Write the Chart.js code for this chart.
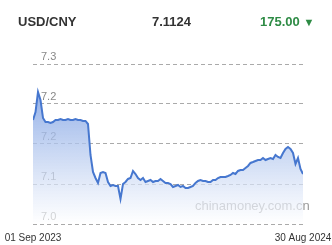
<!DOCTYPE html>
<html>
<head>
<meta charset="utf-8">
<script src="https://cdn.jsdelivr.net/npm/chart.js@4"></script>
<style>
  body { margin: 0; background: #fff; font-family: "Liberation Sans", Arial, sans-serif; }
  #wrap { position: relative; width: 332px; height: 245px; }
  #myChart { position: absolute; left: 0; top: 0; }
  .hd { position: absolute; top: 14px; font-size: 13px; font-weight: bold; color: #333; }
</style>
</head>
<body>
<div id="wrap">
  <canvas id="myChart" width="332" height="245"></canvas>
  <span class="hd" style="left:18px">USD/CNY</span>
  <span class="hd" style="left:152px">7.1124</span>
  <span class="hd" style="left:260px;color:#2e8b45">175.00 <span style="font-size:11px">&#9660;</span></span>
</div>
<script>
// USD/CNY, 01 Sep 2023 - 30 Aug 2024
const dateLabels = ['01 Sep 2023', '30 Aug 2024'];
const rates = [
  7.18, 7.19, 7.215, 7.205, 7.1825, 7.1775, 7.1775, 7.1763, 7.1775, 7.18,
  7.18, 7.1813, 7.18, 7.18, 7.1813, 7.18, 7.18, 7.1813, 7.18, 7.18,
  7.1788, 7.1788, 7.175, 7.1363, 7.115, 7.1075, 7.1013, 7.1138, 7.115, 7.1138,
  7.1025, 7.0975, 7.0988, 7.0975, 7.0975, 7.0813, 7.10, 7.1025, 7.1063, 7.1075,
  7.1163, 7.1125, 7.1075, 7.105, 7.1075, 7.1025, 7.1038, 7.105, 7.1025, 7.1038,
  7.1038, 7.1063, 7.1038, 7.1013, 7.1013, 7.10, 7.0963, 7.0975, 7.0988, 7.0963,
  7.0975, 7.095, 7.095, 7.0963, 7.0975, 7.1013, 7.1038, 7.105, 7.1038, 7.1038,
  7.1025, 7.1025, 7.105, 7.105, 7.1075, 7.1088, 7.1088, 7.1088, 7.11, 7.1113,
  7.1138, 7.1125, 7.1163, 7.1175, 7.1175, 7.12, 7.1225, 7.1263, 7.1275, 7.1288,
  7.13, 7.13, 7.1325, 7.13, 7.1313, 7.1325, 7.1313, 7.1363, 7.1338, 7.1325,
  7.1388, 7.1438, 7.1463, 7.1438, 7.1388, 7.125, 7.1325, 7.1188, 7.1124
];
// gridlines and the labels the site prints for them (one decimal)
const yTicks = [7.05, 7.10, 7.15, 7.20, 7.25];
const yTickLabels = ['7.0', '7.1', '7.2', '7.2', '7.3'];

const points = rates.map((v, i) => ({ x: i, y: v }));
const last = rates.length - 1;

// watermark, drawn under the fill
const watermark = {
  id: 'watermark',
  beforeDatasetsDraw(chart) {
    const c = chart.ctx;
    c.save();
    c.font = '13px "Liberation Sans", Arial, sans-serif';
    c.fillStyle = '#9a9a9a';
    c.textBaseline = 'middle';
    c.fillText('chinamoney.com.cn', 195, 206);
    c.restore();
  }
};

const ctx = document.getElementById('myChart').getContext('2d');
const myChart = new Chart(ctx, {
  type: 'line',
  data: {
    datasets: [{
      data: points,
      borderColor: '#4677cf',
      borderWidth: 2,
      pointRadius: 0,
      tension: 0,
      fill: 'start',
      backgroundColor: function(context) {
        const area = context.chart.chartArea;
        if (!area) return 'rgba(120,160,225,0.5)';
        const g = context.chart.ctx.createLinearGradient(0, area.top, 0, area.bottom);
        g.addColorStop(0, 'rgba(95,138,220,0.85)');
        g.addColorStop(1, 'rgba(255,255,255,0.65)');
        return g;
      }
    }]
  },
  options: {
    responsive: false,
    animation: false,
    layout: { padding: { left: 33, right: 29, top: 64, bottom: 0 } },
    plugins: { legend: { display: false }, tooltip: { enabled: false } },
    scales: {
      x: {
        type: 'linear',
        min: 0,
        max: last,
        afterBuildTicks: function(scale) {
          scale.ticks = [{ value: 0 }, { value: last }];
        },
        afterFit: function(scale) {
          scale.height = 21;
          scale.paddingLeft = 0;
          scale.paddingRight = 0;
        },
        ticks: {
          maxRotation: 0,
          padding: 8,
          color: '#333',
          font: { size: 10, family: '"Liberation Sans", Arial, sans-serif' },
          callback: function(v) { return v === 0 ? dateLabels[0] : dateLabels[1]; }
        },
        grid: { display: false, drawTicks: false },
        border: { display: false }
      },
      y: {
        min: 7.05,
        max: 7.25,
        afterBuildTicks: function(scale) {
          scale.ticks = yTicks.map(v => ({ value: v }));
        },
        afterFit: function(scale) { scale.width = 0; },
        ticks: {
          mirror: true,
          padding: 8,
          labelOffset: -7,
          color: '#888',
          font: { size: 11, family: '"Liberation Sans", Arial, sans-serif' },
          callback: function(v, i) { return yTickLabels[i]; }
        },
        grid: { color: '#aaa', drawTicks: false },
        border: { display: false, dash: [4, 3] }
      }
    }
  },
  plugins: [watermark]
});
</script>
</body>
</html>
